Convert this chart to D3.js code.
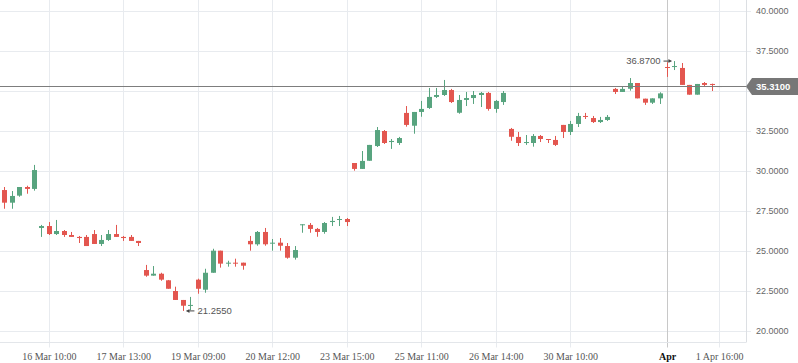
<!DOCTYPE html>
<html>
<head>
<meta charset="utf-8">
<script src="https://cdn.jsdelivr.net/npm/d3@7"></script>
<style>
  html, body { margin: 0; padding: 0; background: #fff; }
  svg { display: block; }
</style>
</head>
<body>
<svg id="chart" width="798" height="363"></svg>
<script>
// candle data, one entry per hourly bar
const opens  = [28.81,28.02,28.46,29.00,28.88,26.44,26.56,26.06,26.25,26.00,25.88,25.88,26.06,25.44,25.69,26.06,25.88,25.88,25.63,23.81,
                23.46,23.58,23.17,22.50,21.94,21.58,23.21,22.58,23.64,25.02,24.21,24.27,24.27,25.63,25.42,26.19,25.46,25.52,25.31,24.58,
                26.61,26.63,26.38,26.19,26.81,26.94,27.00,30.50,30.13,30.64,31.56,32.50,31.81,31.75,33.63,32.83,33.69,33.94,34.63,34.75,
                35.06,33.64,34.44,34.56,34.75,34.88,33.88,34.31,32.63,32.13,31.75,31.75,32.19,32.00,31.94,32.88,32.44,32.94,33.44,33.31,
                33.06,33.19,35.13,34.94,35.14,35.50,34.52,34.27,34.54,36.50,36.50,36.44,35.38,34.77,35.50,35.44,35.31];
const highs  = [29.00,28.75,29.00,29.08,30.38,26.63,26.81,26.94,26.31,26.19,25.94,26.00,26.31,26.00,26.31,26.63,25.94,26.00,25.63,24.13,
                24.06,23.64,23.19,22.77,21.94,22.13,23.27,23.89,25.14,25.02,24.39,24.52,24.27,25.94,26.25,26.44,25.75,25.81,25.50,25.31,
                26.67,26.75,26.44,26.81,27.13,27.19,27.06,30.50,31.25,31.63,32.75,32.56,32.00,32.13,34.06,33.69,34.38,35.19,35.19,35.69,
                35.13,34.75,34.94,35.00,34.94,34.94,34.44,35.00,32.69,32.44,32.25,32.31,32.25,32.00,32.19,32.88,33.13,33.63,33.63,33.44,
                33.38,33.50,35.19,35.25,35.81,35.50,34.52,34.54,34.92,36.80,36.87,36.75,35.38,35.44,35.56,35.46,35.31];
const lows   = [27.64,27.64,28.39,28.58,28.77,25.88,26.00,26.00,25.88,25.88,25.50,25.31,25.44,25.31,25.63,25.88,25.63,25.63,25.31,23.39,
                23.46,23.14,22.64,21.94,21.255,21.30,22.33,22.39,23.64,23.96,24.02,24.02,23.83,25.02,25.33,25.33,25.02,25.02,24.52,24.46,
                26.14,26.14,25.89,26.08,26.56,26.56,26.56,30.02,30.13,30.64,31.50,31.69,31.38,31.63,32.77,32.33,33.39,33.88,34.56,34.69,
                34.25,33.58,34.06,34.19,34.00,33.77,33.64,34.13,31.89,31.56,31.63,31.52,31.81,31.75,31.56,32.06,32.25,32.75,33.25,33.00,
                33.00,33.13,34.81,34.94,35.02,34.54,34.13,34.19,34.19,35.88,36.31,35.38,34.77,34.77,35.31,35.00,35.31];
const closes = [28.02,28.44,29.00,28.88,30.06,26.56,26.06,26.25,26.00,25.88,25.81,25.31,25.44,25.69,26.06,25.88,25.81,25.63,25.50,23.46,
                23.58,23.21,22.64,21.94,21.58,21.63,22.64,23.64,25.02,24.21,24.27,24.21,24.08,25.42,26.19,25.42,25.52,25.33,24.58,25.06,
                26.67,26.38,26.19,26.75,26.88,27.00,26.81,30.13,30.63,31.63,32.56,31.75,31.88,32.06,32.88,33.69,33.88,34.63,34.75,35.06,
                34.31,34.44,34.56,34.75,34.88,33.88,34.38,34.88,32.14,31.75,31.81,32.19,32.00,31.94,31.63,32.44,32.94,33.44,33.38,33.06,
                33.19,33.38,34.94,35.13,35.50,34.54,34.27,34.54,34.85,36.44,36.56,35.38,34.77,35.44,35.38,35.38,35.31];

const tickIndex  = [6, 16, 26, 36, 46, 56, 66, 76, 89, 96];
const tickLabels = ["16 Mar 10:00","17 Mar 13:00","19 Mar 09:00","20 Mar 12:00","23 Mar 15:00",
                    "25 Mar 11:00","26 Mar 14:00","30 Mar 10:00","Apr","1 Apr 16:00"];
const priceTicks = [20, 22.5, 25, 27.5, 30, 32.5, 35, 37.5, 40];
const lastPrice = 35.31;
const maxMark = {i: 90, v: 36.87};
const minMark = {i: 24, v: 21.255};

const W = 746, H = 342.5;
const UP = "#58a47f", DOWN = "#e3564f", FLAT = "#777";

let svg = d3.select("#chart");
let x = d3.scaleLinear().domain([-0.56, 99.6]).range([0, W]);
let y = d3.scaleLinear().domain([20, 40]).range([331, 11]);

let bars = opens.map((o, i) => ({i, o, h: highs[i], l: lows[i], c: closes[i]}));

// horizontal grid
svg.append("g")
    .selectAll("line").data(priceTicks).enter()
    .append("line")
    .attr("x1", 0).attr("x2", W + 5)
    .attr("y1", d => Math.round(y(d)) + 0.5).attr("y2", d => Math.round(y(d)) + 0.5)
    .attr("stroke", "#e8ebef");

// vertical grid at time ticks
svg.append("g")
    .selectAll("line").data(tickIndex).enter()
    .append("line")
    .attr("x1", d => Math.round(x(d)) + 0.5).attr("x2", d => Math.round(x(d)) + 0.5)
    .attr("y1", 0).attr("y2", H + 5)
    .attr("stroke", (d, k) => tickLabels[k] === "Apr" ? "#c8c8c8" : "#e8ebef");

// axes frame
svg.append("line").attr("x1", 0).attr("x2", W).attr("y1", H).attr("y2", H).attr("stroke", "#e3e6ea");
svg.append("line").attr("x1", W + 0.5).attr("x2", W + 0.5).attr("y1", 0).attr("y2", H).attr("stroke", "#dcdfe3");

// time axis labels
let xAxis = d3.axisBottom(x).tickValues(tickIndex).tickSize(0)
    .tickFormat((d, k) => tickLabels[k]);
let gx = svg.append("g").attr("transform", `translate(0,${H})`).call(xAxis);
gx.select(".domain").remove();
gx.selectAll("text")
    .attr("y", 10)
    .attr("dy", "0.71em")
    .attr("font-family", "'Liberation Serif', serif")
    .attr("font-size", 10)
    .attr("fill", d => d === 89 ? "#111" : "#555")
    .attr("font-weight", d => d === 89 ? "bold" : "normal");

// price axis labels (the one under the last price tag is hidden)
let yAxis = d3.axisRight(y)
    .tickValues(priceTicks.filter(v => Math.abs(y(v) - y(lastPrice)) > 10))
    .tickSize(0).tickFormat(d3.format(".4f"));
let gy = svg.append("g").attr("transform", `translate(${W},0)`).call(yAxis);
gy.select(".domain").remove();
gy.selectAll("text")
    .attr("x", 10)
    .attr("font-family", "'Liberation Sans', Arial, sans-serif")
    .attr("font-size", 9)
    .attr("fill", "#666");

// candles
let color = d => d.c > d.o ? UP : d.c < d.o ? DOWN : FLAT;
let candles = svg.append("g")
    .selectAll("g").data(bars).enter()
    .append("g");

candles.append("line")
    .attr("x1", d => Math.round(x(d.i)) + 0.5).attr("x2", d => Math.round(x(d.i)) + 0.5)
    .attr("y1", d => y(d.h)).attr("y2", d => y(d.l))
    .attr("stroke", color);

candles.append("rect")
    .attr("x", d => Math.round(x(d.i)) - 2)
    .attr("width", 5)
    .attr("y", d => y(Math.max(d.o, d.c)))
    .attr("height", d => Math.max(1, y(Math.min(d.o, d.c)) - y(Math.max(d.o, d.c))))
    .attr("fill", color);

// last price line and tag
let py = Math.round(y(lastPrice)) + 0.5;
svg.append("line").attr("x1", 0).attr("x2", W).attr("y1", py).attr("y2", py)
    .attr("stroke", "#7d7d7d");
svg.append("path")
    .attr("d", `M${W},${py} L${W + 6},${py - 8.5} L798,${py - 8.5} L798,${py + 8.5} L${W + 6},${py + 8.5} Z`)
    .attr("fill", "#777");
svg.append("text")
    .attr("x", W + 10).attr("y", py).attr("dy", "0.35em")
    .attr("font-family", "'Liberation Sans', Arial, sans-serif")
    .attr("font-size", 9.5).attr("font-weight", "bold")
    .attr("fill", "#fff")
    .text(d3.format(".4f")(lastPrice));

// high / low markers
function marker(m, side) {
    let mx = x(m.i), my = y(m.v);
    let tip = side < 0 ? mx - 3 : mx + 3.5;
    let tail = tip + side * 8;
    let g = svg.append("g").attr("stroke", "#444").attr("fill", "#444");
    g.append("line").attr("x1", tail).attr("x2", tip).attr("y1", my).attr("y2", my);
    g.append("path")
        .attr("d", `M${tip},${my} L${tip + side * 3},${my - 2} L${tip + side * 3},${my + 2} Z`)
        .attr("stroke", "none");
    svg.append("text")
        .attr("x", tail + side * 3).attr("y", my).attr("dy", "0.35em")
        .attr("text-anchor", side < 0 ? "end" : "start")
        .attr("font-family", "'Liberation Sans', Arial, sans-serif")
        .attr("font-size", 9.5).attr("fill", "#555")
        .text(d3.format(".4f")(m.v));
}
marker(maxMark, -1);
marker(minMark, 1);
</script>
</body>
</html>
